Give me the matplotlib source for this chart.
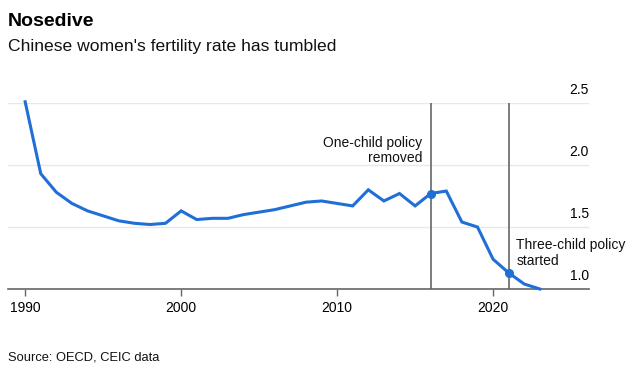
import matplotlib
matplotlib.use("Agg")
import matplotlib.pyplot as plt

plt.rcParams['font.family'] = ['Liberation Sans', 'DejaVu Sans']

years = list(range(1990, 2024))
fertility = [2.51, 1.93, 1.78, 1.69, 1.63, 1.59, 1.55, 1.53, 1.52, 1.53,
             1.63, 1.56, 1.57, 1.57, 1.60, 1.62, 1.64, 1.67, 1.70, 1.71,
             1.69, 1.67, 1.80, 1.71, 1.77, 1.67, 1.77, 1.79, 1.54, 1.50,
             1.24, 1.13, 1.04, 1.00]
event_years = [2016, 2021]
event_labels = ["One-child policy\nremoved", "Three-child policy\nstarted"]
y_ticks = [1.0, 1.5, 2.0, 2.5]
x_ticks = [1990, 2000, 2010, 2020]

W, H = 638, 382
fig = plt.figure(figsize=(W / 100, H / 100), dpi=100)
ax = fig.add_axes([8 / W, 1 - 289 / H, (589 - 8) / W, (289 - 103) / H])

blue = '#1f6fd6'
gray = '#666666'

for y in y_ticks[1:]:
    ax.axhline(y, color='#e8e8e8', lw=1.0, zorder=0)

for ey in event_years:
    ax.axvline(ey, color=gray, lw=1.2, zorder=1)

ax.plot(years, fertility, color=blue, lw=2.2, zorder=3, clip_on=False,
        solid_joinstyle='miter')
for ey in event_years:
    i = years.index(ey)
    ax.plot(ey, fertility[i], 'o', color=blue, ms=5.5, zorder=4, clip_on=False)

ax.set_xlim(1988.9, 2026.15)
ax.set_ylim(1.0, 2.5)

for s in ['top', 'right', 'left']:
    ax.spines[s].set_visible(False)
ax.spines['bottom'].set_color(gray)
ax.spines['bottom'].set_linewidth(1.2)

ax.set_xticks(x_ticks)
ax.set_xticklabels([str(x) for x in x_ticks], fontsize=10, color='black')
ax.tick_params(axis='x', length=5, width=1, color=gray, pad=4)
ax.set_yticks([])

for y in y_ticks:
    ax.text(1, y + 0.045, f"{y:.1f}", transform=ax.get_yaxis_transform(),
            ha='right', va='bottom', fontsize=10, color='black')

# annotations
ax.text(2015.45, 2.12, event_labels[0], ha='right', va='center', fontsize=10,
        linespacing=1.1, color='#111111')
ax.text(2021.5, 1.29, event_labels[1], ha='left', va='center', fontsize=10,
        linespacing=1.1, color='#111111')

fig.text(8 / W, 1 - 21 / H, "Nosedive", fontsize=14, fontweight='bold',
         ha='left', va='center', color='black')
fig.text(8 / W, 1 - 47 / H, "Chinese women's fertility rate has tumbled",
         fontsize=12.6, ha='left', va='center', color='#111111')
fig.text(8 / W, 1 - 357 / H, "Source: OECD, CEIC data", fontsize=9.3,
         ha='left', va='center', color='#111111')

fig.savefig("out.png", dpi=100)
